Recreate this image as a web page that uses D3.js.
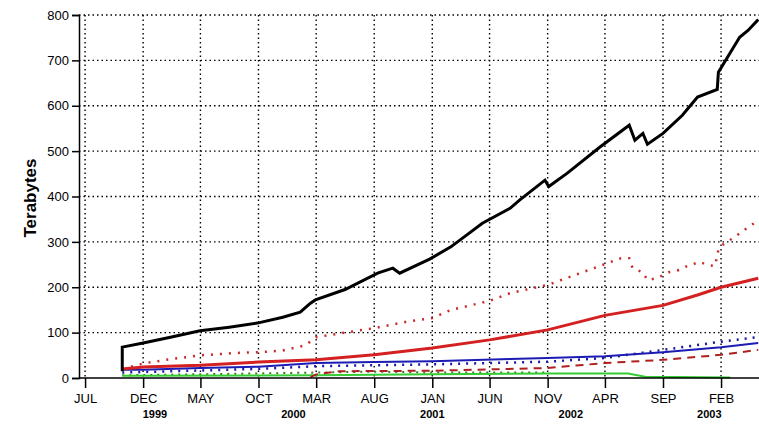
<!DOCTYPE html>
<html>
<head>
<meta charset="utf-8">
<script src="https://cdn.jsdelivr.net/npm/d3@7"></script>
<style>
  body { margin: 0; background: #fff; }
  text { font-family: "Liberation Sans", Arial, sans-serif; fill: #000; }
</style>
</head>
<body>
<div id="chart"></div>
<script>
// Values (dates, terabytes)
const totalDates = ["1998-10-07","1998-10-07","1998-12-01","1999-02-11","1999-04-30","1999-07-16","1999-09-28","1999-12-04","2000-01-19","2000-02-15","2000-02-28","2000-05-16","2000-08-10","2000-09-19","2000-10-07","2000-12-25","2001-02-19","2001-05-13","2001-07-25","2001-08-19","2001-10-25","2001-11-04","2001-12-22","2002-03-19","2002-06-04","2002-06-19","2002-07-10","2002-07-22","2002-09-01","2002-10-22","2002-12-01","2003-01-22","2003-01-25","2003-03-22","2003-04-13","2003-05-10"];
const totalValues = [15,68,77,90,104,112,121,134,145,165,172,195,231,242,231,262,289,341,374,392,436,422,451,509,557,524,539,515,539,579,619,636,674,751,766,790];

const redDates = ["1998-10-07","1998-12-01","1999-05-01","1999-10-01","2000-03-01","2000-08-01","2001-01-01","2001-06-01","2001-11-01","2002-04-01","2002-09-01","2002-12-01","2003-02-01","2003-05-10"];
const redValues = [20,24,28,35,40,51,66,84,106,138,160,183,200,220];

const redDotDates = ["1998-10-07","1998-12-01","1999-02-15","1999-05-01","1999-08-01","1999-10-01","1999-12-01","2000-02-01","2000-03-01","2000-05-01","2000-08-01","2000-11-01","2001-01-01","2001-02-19","2001-06-01","2001-07-25","2001-11-01","2002-03-19","2002-05-13","2002-06-04","2002-06-13","2002-07-10","2002-07-22","2002-08-16","2002-09-16","2002-10-13","2002-11-04","2002-12-07","2002-12-28","2003-01-16","2003-01-25","2003-02-04","2003-03-04","2003-04-10","2003-05-04"];
const redDotValues = [20,32,42,50,55,57,60,72,90,98,110,125,132,150,170,187,205,247,264,264,242,233,216,220,233,238,247,256,249,247,282,293,308,330,344];

const redDashDates = ["2000-02-15","2000-03-01","2000-05-01","2001-01-01","2001-11-01","2002-04-01","2002-09-01","2003-02-01","2003-05-10"];
const redDashValues = [2,8,15,16,22,33,40,51,62];

const blueDates = ["1998-10-07","1998-12-01","1999-05-01","1999-10-01","2000-03-01","2000-08-01","2001-01-01","2001-07-25","2001-11-01","2002-04-01","2002-09-01","2003-02-01","2003-05-10"];
const blueValues = [18,18,22,25,33,35,37,42,44,48,57,68,77];

const blueDotDates = ["1998-10-07","1999-10-01","2000-03-01","2001-01-01","2001-11-01","2002-04-01","2002-09-01","2003-02-01","2003-05-10"];
const blueDotValues = [12,20,26,30,36,44,62,80,90];

const greenDates = ["1998-10-07","2000-03-01","2001-01-01","2001-11-01","2002-06-01","2002-07-16","2003-02-25"];
const greenValues = [5,6,8,10,10,3,1];

const greenDotDates = ["1998-10-07","1999-10-01","2000-08-01","2001-01-01","2001-11-01"];
const greenDotValues = [6,10,14,12,12];

const yTicks = [0,100,200,300,400,500,600,700,800];
const xTickDates = ["1998-07-01","1998-12-01","1999-05-01","1999-10-01","2000-03-01","2000-08-01","2001-01-01","2001-06-01","2001-11-01","2002-04-01","2002-09-01","2003-02-01"];
const yearLabels = ["1999","2000","2001","2002","2003"];

const parse = d3.timeParse("%Y-%m-%d");
const W = 759, H = 430;

const svg = d3.select("#chart").append("svg")
  .attr("width", W).attr("height", H);

const x = d3.scaleTime()
  .domain([parse("1998-06-15"), parse("2003-05-12")])
  .range([79, 759]);
const y = d3.scaleLinear().domain([0, 800]).range([378, 15]);

// grid
svg.append("g").selectAll("line")
  .data(yTicks.slice(1))
  .enter().append("line")
    .attr("x1", 79).attr("x2", W)
    .attr("y1", d => y(d)).attr("y2", d => y(d))
    .attr("stroke", "#000").attr("stroke-width", 1.4)
    .attr("stroke-dasharray", "1.5,3");

svg.append("g").selectAll("line")
  .data(xTickDates)
  .enter().append("line")
    .attr("x1", d => x(parse(d))).attr("x2", d => x(parse(d)))
    .attr("y1", y(800)).attr("y2", y(0))
    .attr("stroke", "#000").attr("stroke-width", 1.4)
    .attr("stroke-dasharray", "1.5,3");

// series
const line = d3.line().x(d => x(d[0])).y(d => y(d[1]));
const series = [
  { dates: greenDotDates, values: greenDotValues, color: "#3a7a1a", width: 2, dash: "2,5" },
  { dates: greenDates, values: greenValues, color: "#33cc33", width: 2, dash: null },
  { dates: redDashDates, values: redDashValues, color: "#b02020", width: 2, dash: "8,6" },
  { dates: blueDotDates, values: blueDotValues, color: "#1a1aa0", width: 2.5, dash: "2,6" },
  { dates: blueDates, values: blueValues, color: "#1c1cb4", width: 2, dash: null },
  { dates: redDotDates, values: redDotValues, color: "#c82828", width: 2.5, dash: "2,7" },
  { dates: redDates, values: redValues, color: "#d42020", width: 3, dash: null },
  { dates: totalDates, values: totalValues, color: "#000", width: 3, dash: null }
];

series.forEach(s => {
  svg.append("path")
    .datum(s.dates.map((d, i) => [parse(d), s.values[i]]))
    .attr("d", line)
    .attr("fill", "none")
    .attr("stroke", s.color)
    .attr("stroke-width", s.width)
    .attr("stroke-dasharray", s.dash);
});

// axes
const yAxis = svg.append("g")
  .attr("transform", "translate(79,0)")
  .call(d3.axisLeft(y).tickValues(yTicks).tickSize(7).tickPadding(3));
yAxis.select(".domain").attr("stroke-width", 1.5);
yAxis.selectAll(".tick line").attr("stroke-width", 1.5);
yAxis.selectAll("text").style("font-size", "13px");

const xAxis = svg.append("g")
  .attr("transform", `translate(0,${y(0)})`)
  .call(d3.axisBottom(x)
    .tickValues(xTickDates.map(parse))
    .tickSize(10).tickPadding(6)
    .tickFormat(d => d3.timeFormat("%b")(d).toUpperCase()));
xAxis.select(".domain").attr("stroke-width", 1.5).attr("d", `M79,0H${W}`);
xAxis.selectAll(".tick line").attr("stroke-width", 1.5);
xAxis.selectAll("text").style("font-size", "13px");

svg.append("g").selectAll("text")
  .data(yearLabels)
  .enter().append("text")
    .attr("x", d => x(parse(d + "-01-01")))
    .attr("y", 418)
    .attr("text-anchor", "middle")
    .style("font-size", "11px")
    .style("font-weight", "bold")
    .text(d => d);

svg.append("text")
  .attr("transform", "translate(36,198) rotate(-90)")
  .attr("text-anchor", "middle")
  .style("font-size", "17px")
  .style("font-weight", "bold")
  .text("Terabytes");
</script>
</body>
</html>
